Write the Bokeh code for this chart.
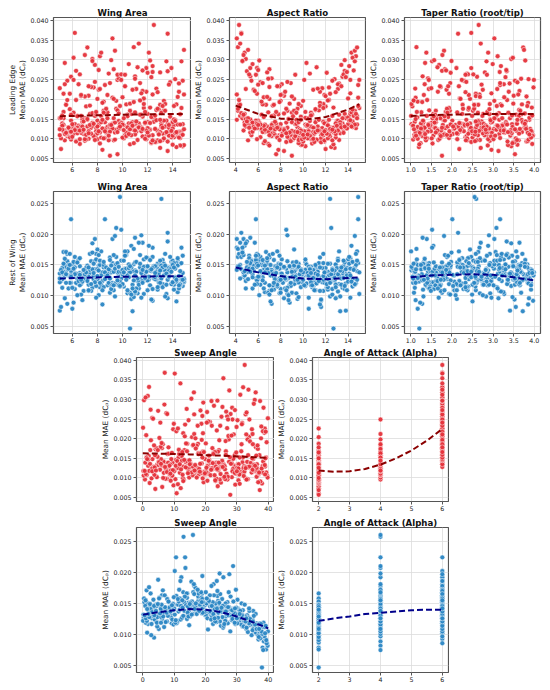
from bokeh.plotting import figure
from bokeh.layouts import column, row
from bokeh.models import (ColumnDataSource, Range1d, FixedTicker, Spacer,
                          NumeralTickFormatter)
from bokeh.embed import file_html
from bokeh.resources import INLINE

# ---------------- data: one row per sampled wing design ----------------
wing_area = [
    7.2, 12.8, 5.4, 9.9, 14.1, 6.6, 11.3, 8.4, 13.5, 5.9, 10.7, 14.8, 7.7, 12.0, 6.3, 9.4, 13.0, 5.2, 11.6, 8.9,
    10.3, 6.1, 14.4, 8.0, 12.3, 5.7, 9.6, 13.8, 7.0, 11.0, 14.9, 6.8, 10.1, 12.6, 5.1, 8.7, 13.2, 7.4, 11.8, 9.2,
    13.3, 8.6, 5.5, 11.9, 7.9, 14.6, 10.5, 6.2, 12.7, 9.0, 5.8, 13.9, 8.2, 11.4, 6.9, 14.3, 9.7, 12.2, 5.3, 10.8,
    6.4, 11.1, 14.7, 8.1, 12.9, 5.6, 9.8, 13.6, 7.3, 10.4, 14.0, 6.0, 9.3, 12.4, 7.6, 10.6, 13.4, 5.0, 8.8, 11.7,
    9.5, 5.3, 13.1, 7.5, 11.5, 14.5, 6.5, 10.2, 12.1, 8.3, 5.8, 13.7, 9.1, 7.1, 11.2, 14.2, 6.7, 10.0, 12.5, 8.5,
    12.4, 7.8, 14.8, 5.9, 10.9, 8.8, 13.2, 6.3, 9.9, 11.9, 5.4, 13.9, 8.0, 11.1, 6.8, 13.1, 9.4, 7.0, 12.0, 9.8,
    5.6, 10.7, 14.0, 7.2, 12.3, 9.0, 13.6, 6.0, 11.5, 8.6, 14.9, 7.6, 10.3, 12.8, 5.2, 9.5, 13.5, 6.6, 11.0, 8.3,
    13.0, 8.4, 5.7, 11.8, 14.4, 7.4, 10.0, 12.6, 6.1, 9.2, 13.7, 7.9, 11.3, 5.1, 14.1, 8.7, 10.8, 6.4, 12.9, 9.6,
    10.9, 6.2, 13.6, 8.1, 12.2, 5.5, 9.7, 14.6, 7.3, 11.4, 6.9, 13.3, 8.9, 12.7, 5.0, 10.1, 14.2, 7.8, 11.7, 8.2,
    13.6, 7.6, 11.0, 5.8, 14.3, 9.3, 12.5, 6.5, 10.6, 8.0, 13.8, 5.4, 9.0, 11.9, 7.1, 14.8, 10.4, 6.3, 12.1, 8.6,
    9.2, 14.7, 6.6, 11.6, 8.5, 13.0, 5.2, 10.2, 12.8, 7.0, 14.0, 9.9, 6.1, 11.2, 13.4, 7.7, 10.5, 5.9, 12.4, 9.4,
    12.5, 8.3, 5.6, 13.9, 10.0, 7.5, 11.8, 14.9, 6.8, 9.6, 13.2, 5.3, 10.8, 8.4, 12.0, 6.7, 14.5, 9.1, 11.5, 7.2,
    5.6, 13.4, 8.3, 11.2, 6.9, 14.0, 9.1, 12.3, 5.9, 10.4, 7.6, 14.6, 8.9, 12.8, 6.2, 10.7, 13.6, 7.9, 11.6, 5.3,
    9.8, 14.3, 6.6, 12.0, 8.5, 10.9, 13.1, 5.0, 9.4, 7.2,
    11.9, 6.0, 13.7, 8.2, 10.3, 5.5, 14.1, 7.3, 12.6, 9.0, 5.8, 11.4, 14.7, 8.0, 10.1, 6.4, 13.3, 7.7, 12.2, 9.7,
    5.2, 11.0, 14.4, 6.8, 10.6, 13.0, 7.9, 9.3, 12.9, 5.7,
    8.7, 13.8, 6.3, 11.3, 5.1, 14.5, 9.9, 7.4, 12.7, 10.5, 6.1, 13.1, 8.8, 11.0, 5.4, 14.2, 9.5, 7.0, 12.2, 10.2,
    5.9, 13.5, 8.1, 11.7, 6.7, 14.9, 9.6, 7.8, 12.4, 10.4,
    12.1, 6.5, 9.2, 14.2, 7.8, 11.5, 5.4, 13.3, 8.6, 10.0, 6.0, 12.6, 9.6, 14.8, 7.0, 11.0, 5.7, 13.0, 8.0, 10.7,
    6.8, 14.5, 9.0, 12.4, 5.2, 10.3, 13.7, 7.5, 11.8, 8.4,
    6.2, 13.5, 9.4, 11.3, 5.5, 14.0, 8.1, 10.8, 7.1, 12.7, 5.0, 10.5, 13.9, 7.7, 9.8, 12.0, 6.6, 14.6, 8.9, 11.6,
    5.9, 13.2, 10.1, 7.3, 12.9, 9.1, 6.9, 14.3, 8.6, 11.1,
    10.6, 5.3, 13.7, 7.9, 12.3, 9.3, 14.1, 6.4, 11.9, 8.2, 10.9, 5.8, 13.0, 7.6, 12.8, 9.7, 6.1, 14.4, 8.8, 11.4,
    5.5, 13.4, 7.3, 10.2, 12.6, 6.7, 14.7, 9.0, 11.6, 8.5,
]
aspect_ratio = [
    4.1, 4.7, 5.1, 5.8, 6.2, 6.9, 7.3, 7.8, 8.6, 9.1, 9.5, 10.2, 10.6, 11.1, 11.9, 12.4, 12.8, 13.5, 14.1, 14.7,
    4.3, 4.9, 5.4, 6.0, 6.5, 7.1, 7.6, 8.2, 8.7, 9.3, 9.8, 10.4, 10.9, 11.4, 12.0, 12.6, 13.2, 13.7, 14.3, 14.9,
    4.2, 4.8, 5.3, 5.9, 6.4, 7.0, 7.5, 8.0, 8.5, 9.0, 9.7, 10.3, 10.8, 11.3, 11.8, 12.5, 13.0, 13.6, 14.2, 14.8,
    4.4, 4.9, 5.5, 6.1, 6.6, 7.2, 7.7, 8.3, 8.8, 9.4, 9.9, 10.5, 11.0, 11.6, 12.1, 12.7, 13.3, 13.8, 14.4, 15.0,
    4.2, 4.6, 5.2, 5.7, 6.3, 6.8, 7.4, 7.9, 8.4, 9.0, 9.6, 10.1, 10.7, 11.2, 11.7, 12.3, 12.9, 13.5, 14.0, 14.6,
    4.1, 4.7, 5.2, 5.8, 6.3, 6.9, 7.4, 8.0, 8.5, 9.1, 9.6, 10.2, 10.7, 11.3, 11.8, 12.4, 12.9, 13.5, 14.2, 14.9,
    4.3, 4.8, 5.4, 5.9, 6.5, 7.0, 7.6, 8.1, 8.6, 9.2, 9.7, 10.3, 10.8, 11.4, 11.9, 12.5, 13.1, 13.6, 14.3, 14.8,
    4.4, 5.0, 5.5, 6.1, 6.6, 7.2, 7.7, 8.3, 8.8, 9.4, 9.9, 10.5, 11.0, 11.6, 12.2, 12.7, 13.3, 13.8, 14.4, 15.0,
    4.2, 4.5, 5.0, 5.6, 6.1, 6.7, 7.2, 7.8, 8.3, 8.9, 9.4, 10.0, 10.6, 11.1, 11.7, 12.2, 12.8, 13.4, 14.0, 14.7,
    4.5, 4.9, 5.3, 5.9, 6.4, 7.0, 7.5, 8.1, 8.6, 9.2, 9.8, 10.3, 10.9, 11.5, 12.0, 12.6, 13.2, 13.7, 14.3, 14.9,
    4.1, 4.6, 5.2, 5.7, 6.3, 6.8, 7.4, 7.9, 8.5, 9.0, 9.6, 10.1, 10.7, 11.2, 11.8, 12.3, 12.9, 13.5, 14.1, 14.6,
    4.3, 4.8, 5.4, 5.9, 6.5, 7.0, 7.6, 8.1, 8.7, 9.3, 9.8, 10.4, 10.9, 11.5, 12.1, 12.6, 13.2, 13.7, 14.2, 14.8,
    9.9, 5.6, 12.9, 7.9, 14.4, 10.7, 6.3, 11.6, 8.4, 13.9, 4.5, 9.2, 11.9, 7.4, 13.1, 5.0, 10.0, 8.9, 12.4, 6.7,
    14.0, 7.1, 10.8, 5.9, 12.2, 9.6, 13.4, 8.1, 11.2, 4.9,
    9.8, 6.1, 12.7, 8.2, 14.5, 10.5, 5.3, 11.5, 7.6, 13.3, 9.1, 4.7, 11.8, 6.8, 12.0, 8.7, 14.1, 10.3, 5.8, 7.3,
    13.0, 9.4, 6.6, 12.5, 8.0, 10.9, 14.7, 5.1, 11.0, 7.8,
    9.5, 6.2, 12.3, 4.4, 10.2, 8.4, 13.6, 7.3, 11.3, 5.5, 14.4, 9.0, 11.9, 6.9, 13.1, 10.6, 8.0, 4.7, 12.7, 7.7,
    10.8, 14.6, 6.0, 9.6, 12.0, 5.1, 11.4, 8.6, 13.9, 7.2,
    8.1, 11.4, 5.7, 13.6, 9.6, 6.9, 12.9, 10.4, 7.5, 14.6, 8.6, 11.0, 6.4, 12.3, 9.9, 13.1, 5.2, 8.9, 11.8, 7.0,
    14.3, 10.1, 8.4, 12.6, 6.6, 9.3, 4.8, 12.1, 10.9, 13.9,
    8.3, 11.1, 5.5, 13.4, 9.7, 7.1, 12.8, 6.5, 10.0, 14.2, 7.9, 11.7, 9.0, 5.9, 13.7, 8.8, 11.3, 6.2, 10.6, 12.4,
    9.3, 7.7, 14.8, 8.5, 10.4, 6.0, 12.6, 9.5, 11.9, 5.0,
    8.8, 12.4, 6.0, 10.2, 13.8, 7.0, 11.5, 9.1, 5.3, 13.1, 7.9, 11.1, 9.8, 4.6, 12.9, 8.3, 14.2, 6.8, 10.5, 12.2,
    7.4, 9.2, 13.4, 5.8, 10.7, 8.0, 11.8, 6.4, 14.5, 9.4,
]
taper_ratio = [
    2.35, 1.15, 3.62, 2.81, 1.73, 3.95, 1.48, 2.96, 3.27, 1.06, 2.12, 3.44, 1.89, 2.58, 3.81, 1.31, 2.70, 3.09, 1.62, 2.24,
    3.18, 1.57, 2.63, 3.71, 1.24, 2.05, 3.53, 1.81, 2.92, 1.02, 3.36, 2.47, 1.40, 3.88, 2.18, 3.02, 1.67, 2.76, 3.57, 1.12,
    1.95, 3.31, 2.52, 1.36, 3.76, 2.87, 1.09, 2.28, 3.49, 1.76, 2.99, 3.92, 1.53, 2.41, 3.15, 1.20, 2.66, 3.65, 1.85, 3.23,
    2.74, 1.44, 3.38, 2.09, 3.84, 1.28, 2.57, 3.13, 1.70, 2.93, 3.59, 1.17, 2.38, 3.97, 1.59, 1.21, 2.83, 3.41, 2.15, 1.93,
    1.88, 3.06, 2.44, 1.33, 3.67, 2.19, 1.05, 2.84, 3.52, 1.61, 2.33, 3.89, 1.47, 2.62, 3.21, 1.79, 2.97, 3.74, 1.16, 2.51,
    2.67, 1.39, 3.46, 2.01, 3.83, 1.26, 2.79, 3.12, 1.52, 2.36, 3.60, 1.98, 2.88, 3.94, 1.10, 2.59, 3.29, 1.72, 2.25, 2.55,
    3.34, 1.55, 2.72, 3.79, 1.91, 2.43, 3.58, 1.19, 2.90, 3.17, 1.64, 2.31, 3.86, 1.37, 2.69, 3.08, 1.83, 3.47, 2.13, 1.01,
    2.26, 3.69, 1.46, 2.95, 3.25, 1.78, 2.50, 3.90, 1.23, 2.77, 3.42, 1.68, 2.06, 3.55, 1.30, 2.86, 3.72, 1.58, 2.40, 3.99,
    1.14, 2.47, 3.33, 1.87, 3.78, 2.64, 1.42, 2.91, 3.50, 1.96, 3.15, 1.08, 2.37, 3.63, 1.50, 2.82, 3.86, 1.69, 2.19, 3.11,
    2.15, 3.44, 1.29, 2.58, 3.70, 1.83, 2.98, 3.26, 1.61, 2.44, 3.91, 1.35, 2.71, 3.38, 1.04, 2.29, 3.56, 1.76, 2.88, 3.17,
    3.03, 1.52, 2.39, 3.64, 1.17, 2.80, 3.46, 1.91, 2.54, 3.81, 1.31, 2.24, 3.37, 1.65, 2.92, 3.98, 1.25, 2.61, 3.19, 1.81,
    2.65, 1.38, 3.53, 2.11, 3.27, 1.73, 2.86, 3.61, 1.12, 2.33, 3.09, 1.48, 2.75, 3.85, 1.97, 2.49, 3.40, 1.57, 2.96, 3.73,
    2.02, 3.25, 1.36, 2.68, 3.79, 1.55, 2.44, 3.52, 1.18, 2.87, 3.14, 1.93, 2.60, 3.92, 1.27, 2.21, 3.35, 1.71, 2.95, 3.66,
    1.43, 2.50, 3.01, 1.84, 2.37, 3.47, 1.06, 2.79, 3.86, 1.62,
    1.74, 3.30, 2.46, 1.12, 3.63, 2.14, 2.93, 1.49, 3.80, 2.31, 1.21, 3.09, 2.63, 1.90, 3.43, 2.75, 1.30, 3.96, 2.18, 1.60,
    3.22, 2.56, 1.97, 3.57, 1.08, 2.83, 3.71, 1.53, 2.40, 3.14,
    2.27, 3.59, 1.40, 2.70, 3.88, 1.66, 2.52, 3.21, 1.11, 2.99, 3.48, 1.89, 2.41, 3.68, 1.34, 2.63, 3.03, 1.77, 3.94, 2.17,
    1.59, 2.84, 3.32, 1.02, 2.58, 3.75, 1.45, 2.35, 3.16, 1.82,
    3.05, 1.65, 2.90, 1.22, 3.58, 2.29, 3.87, 1.51, 2.71, 3.34, 1.10, 2.47, 3.70, 1.80, 2.13, 3.19, 1.34, 2.56, 3.45, 1.96,
    2.84, 3.92, 1.41, 2.34, 3.27, 1.73, 2.61, 3.63, 1.17, 2.06,
    2.20, 3.41, 1.58, 2.77, 3.84, 1.25, 2.49, 3.11, 1.88, 2.94, 3.53, 1.35, 2.66, 3.77, 2.03, 1.61, 3.26, 2.38, 1.13, 3.65,
    2.57, 1.76, 3.03, 2.12, 3.88, 1.43, 2.82, 3.36, 1.94, 2.58,
    3.49, 1.93, 2.72, 1.15, 3.30, 2.21, 3.83, 1.56, 2.47, 3.10, 1.28, 2.91, 3.59, 1.99, 2.33, 3.77, 1.44, 2.68, 3.22, 1.07,
    2.54, 3.66, 1.71, 2.85, 3.95, 1.32, 2.41, 3.17, 1.86, 2.63,
]
sweep_angle = [
    3.1, 8.4, 0.7, 5.5, 9.2, 2.2, 6.8, 4.0, 1.4, 7.7, 3.6, 9.8, 0.3, 5.1, 8.9, 2.7, 6.2, 4.6, 1.9, 7.3,
    14.2, 11.7, 17.9, 12.6, 19.4, 15.3, 10.8, 16.6, 13.1, 18.5, 11.2, 17.0, 14.8, 19.9, 12.1, 16.2, 10.4, 18.1, 13.9, 15.7,
    24.3, 21.1, 28.7, 26.0, 22.8, 29.5, 20.4, 25.6, 23.2, 27.9, 21.7, 26.8, 24.9, 29.1, 20.8, 23.9, 28.2, 22.4, 26.5, 25.2,
    33.6, 38.9, 31.2, 36.4, 30.5, 39.6, 34.1, 37.3, 32.7, 35.8, 30.9, 38.2, 33.0, 36.9, 31.8, 38.0, 34.7, 39.3, 32.3, 36.1,
    6.1, 1.2, 9.5, 3.4, 7.9, 0.5, 5.0, 8.6, 2.9, 6.6, 4.3, 9.0, 1.7, 7.2, 3.8, 5.8, 0.9, 8.1, 4.7, 2.4,
    16.4, 12.3, 18.8, 10.6, 14.5, 19.1, 11.8, 17.3, 13.6, 15.9, 10.2, 18.3, 12.8, 16.9, 14.1, 13.0, 19.6, 11.4, 17.7, 16.0,
    27.4, 22.6, 25.3, 20.7, 29.2, 23.8, 21.5, 26.7, 24.5, 28.4, 22.0, 25.9, 20.2, 27.0, 23.4, 28.8, 21.2, 26.1, 24.0, 29.7,
    31.5, 35.2, 39.0, 33.3, 37.6, 30.3, 36.3, 32.1, 38.6, 34.4, 30.7, 37.0, 33.8, 39.8, 35.5, 31.0, 38.4, 32.9, 36.7, 34.0,
    2.0, 7.0, 4.9, 9.7, 0.4, 6.4, 3.0, 8.3, 1.1, 5.6, 9.1, 2.6, 7.5, 4.1, 0.1, 8.8, 3.3, 6.9, 5.3, 1.6,
    10.2, 15.5, 19.0, 12.9, 17.6, 14.0, 11.0, 18.7, 13.3, 16.8, 12.4, 19.3, 15.1, 10.7, 17.2, 14.6, 11.6, 18.4, 16.3, 13.5,
    25.7, 21.9, 28.0, 23.6, 26.4, 20.5, 29.4, 24.7, 22.2, 27.3, 21.3, 28.6, 23.0, 25.4, 20.1, 29.9, 24.2, 26.9, 22.7, 27.6,
    32.5, 36.0, 30.2, 38.5, 33.9, 37.8, 31.4, 35.0, 39.1, 32.8, 36.6, 30.6, 34.8, 39.5, 33.1, 37.2, 31.7, 35.7, 38.8, 32.0,
    18.9, 6.3, 27.1, 33.5, 12.5, 1.3, 22.1, 37.5, 8.0, 16.0, 29.8, 4.5, 24.6, 35.3, 14.3, 0.8, 20.6, 31.4, 9.4, 17.4,
    28.4, 39.4, 2.8, 13.7, 25.8, 36.8, 5.9, 19.7, 23.5, 34.9,
    7.4, 15.2, 25.0, 32.4, 3.9, 19.8, 28.9, 36.5, 11.3, 22.9, 0.2, 17.8, 30.8, 8.5, 26.2, 38.1, 13.2, 21.6, 5.2, 34.6,
    16.7, 29.6, 2.3, 24.1, 37.9, 10.0, 18.6, 31.9, 6.7, 23.3,
    4.4, 21.4, 33.4, 12.0, 27.8, 38.3, 7.8, 16.1, 26.9, 35.4, 0.9, 19.5, 29.0, 39.9, 9.9, 14.9, 24.4, 31.1, 5.7, 17.5,
    22.5, 37.4, 2.5, 13.8, 28.3, 33.7, 11.5, 20.9, 26.6, 36.2,
    3.7, 21.8, 30.1, 14.6, 26.3, 9.0, 37.0, 17.2, 24.0, 5.8, 32.2, 12.9, 28.6, 1.0, 19.1, 35.0, 7.1, 23.1, 15.6, 39.0,
    10.5, 26.0, 2.1, 33.1, 18.0, 22.9, 11.8, 29.3, 6.5, 36.3,
    12.2, 3.0, 27.5, 33.9, 7.7, 20.3, 16.5, 38.9, 24.8, 1.8, 30.5, 14.4, 9.6, 22.3, 35.8, 18.2, 5.5, 28.1, 12.7, 32.8,
    0.6, 25.5, 19.0, 37.1, 8.8, 15.0, 23.7, 30.0, 4.2, 21.0,
    6.0, 19.2, 31.6, 14.1, 25.1, 37.7, 3.6, 21.1, 28.5, 11.2, 34.2, 16.9, 1.4, 23.8, 39.2, 9.3, 27.2, 13.4, 30.9, 18.8,
    35.1, 4.8, 22.0, 16.4, 26.5, 33.0, 8.2, 20.4, 29.4, 12.6,
]
alpha = ([2] * 80 + [4] * 80 + [6] * 80 + [2] * 30 + [4] * 30 + [6] * 30
         + [2] * 30 + [4] * 30 + [6] * 30)
le_mae = [
    .0148, .0121, .0096, .0133, .0104, .0087, .0139, .0072, .0115, .0098, .0129, .0081, .0106, .0142, .0093, .0118, .0077, .0134, .0156, .0127,
    .0187, .0131, .0109, .0146, .0089, .0124, .0061, .0113, .0095, .0137, .0084, .0119, .0101, .0148, .0074, .0125, .0097, .0163, .0139, .0204,
    .0171, .0142, .0116, .0099, .0128, .0083, .0110, .0137, .0092, .0057, .0121, .0104, .0088, .0131, .0112, .0079, .0145, .0123, .0168, .0136,
    .0158, .0226, .0118, .0135, .0094, .0107, .0126, .0069, .0100, .0117, .0085, .0130, .0096, .0109, .0140, .0086, .0114, .0152, .0130, .0178,
    .0176, .0152, .0139, .0128, .0161, .0118, .0133, .0109, .0124, .0142, .0104, .0119, .0131, .0098, .0127, .0148, .0115, .0139, .0154, .0171,
    .0212, .0158, .0137, .0146, .0122, .0167, .0113, .0126, .0141, .0107, .0121, .0136, .0099, .0118, .0143, .0129, .0116, .0152, .0163, .0183,
    .0198, .0163, .0144, .0131, .0155, .0120, .0138, .0111, .0128, .0102, .0124, .0133, .0115, .0096, .0139, .0123, .0146, .0130, .0167, .0158,
    .0186, .0148, .0129, .0141, .0117, .0135, .0103, .0125, .0112, .0138, .0108, .0119, .0127, .0101, .0134, .0116, .0142, .0128, .0174, .0249,
    .0332, .0368, .0271, .0224, .0298, .0186, .0253, .0162, .0209, .0241, .0148, .0196, .0265, .0173, .0228, .0134, .0251, .0287, .0202, .0309,
    .0366, .0302, .0258, .0214, .0187, .0276, .0143, .0238, .0171, .0201, .0156, .0292, .0128, .0219, .0182, .0247, .0161, .0272, .0318, .0236,
    .0354, .0296, .0263, .0221, .0194, .0268, .0159, .0233, .0176, .0207, .0142, .0249, .0166, .0281, .0188, .0230, .0139, .0257, .0284, .0323,
    .0388, .0318, .0247, .0279, .0205, .0231, .0168, .0212, .0150, .0262, .0183, .0135, .0224, .0191, .0267, .0158, .0240, .0299, .0215, .0331,
    .0112, .0131, .0103, .0097, .0144, .0108, .0125, .0091, .0117, .0129, .0165, .0102, .0096, .0120, .0124, .0139, .0093, .0110, .0106, .0119,
    .0137, .0114, .0099, .0127, .0101, .0089, .0133, .0109, .0098, .0150,
    .0121, .0137, .0128, .0116, .0158, .0112, .0149, .0119, .0125, .0135, .0118, .0161, .0109, .0131, .0122, .0114, .0146, .0107, .0140, .0127,
    .0133, .0111, .0136, .0120, .0124, .0117, .0163, .0152, .0113, .0129,
    .0176, .0243, .0198, .0341, .0153, .0219, .0263, .0184, .0227, .0289, .0305, .0166, .0211, .0252, .0238, .0145, .0196, .0312, .0179, .0233,
    .0161, .0296, .0274, .0188, .0208, .0325, .0172, .0244, .0269, .0157,
    .0108, .0121, .0126, .0115, .0097, .0119, .0112, .0101, .0124, .0136, .0105, .0092, .0117, .0110, .0099, .0121, .0128, .0094, .0114, .0109,
    .0131, .0103, .0118, .0096, .0123, .0107, .0135, .0113, .0100, .0126,
    .0122, .0117, .0141, .0129, .0115, .0126, .0119, .0133, .0110, .0147, .0124, .0112, .0120, .0138, .0131, .0116, .0121, .0136, .0108, .0125,
    .0118, .0128, .0152, .0114, .0111, .0135, .0123, .0117, .0119, .0144,
    .0189, .0214, .0237, .0168, .0256, .0201, .0183, .0157, .0279, .0226, .0193, .0175, .0148, .0297, .0218, .0164, .0249, .0206, .0152, .0197,
    .0186, .0171, .0233, .0262, .0159, .0211, .0178, .0241, .0273, .0166,
]
rest_mae = [
    .0142, .0131, .0150, .0128, .0118, .0137, .0112, .0124, .0103, .0121, .0095, .0116, .0127, .0109, .0132, .0099, .0125, .0113, .0136, .0120,
    .0166, .0139, .0158, .0127, .0143, .0133, .0118, .0146, .0129, .0141, .0122, .0136, .0115, .0131, .0124, .0144, .0119, .0137, .0128, .0153,
    .0148, .0134, .0141, .0125, .0130, .0117, .0138, .0111, .0126, .0105, .0132, .0120, .0114, .0127, .0108, .0123, .0135, .0117, .0129, .0140,
    .0128, .0112, .0135, .0101, .0121, .0087, .0115, .0096, .0118, .0104, .0122, .0079, .0109, .0092, .0113, .0047, .0099, .0076, .0117, .0103,
    .0163, .0171, .0149, .0156, .0140, .0152, .0131, .0144, .0126, .0138, .0121, .0133, .0117, .0142, .0124, .0130, .0119, .0135, .0128, .0146,
    .0178, .0192, .0165, .0224, .0151, .0143, .0158, .0136, .0207, .0147, .0132, .0155, .0141, .0139, .0125, .0257, .0150, .0137, .0161, .0260,
    .0168, .0181, .0157, .0149, .0140, .0162, .0145, .0133, .0198, .0139, .0128, .0143, .0131, .0152, .0127, .0210, .0136, .0148, .0154, .0172,
    .0150, .0138, .0112, .0131, .0106, .0142, .0118, .0127, .0089, .0121, .0134, .0097, .0123, .0082, .0110, .0129, .0075, .0120, .0115, .0138,
    .0176, .0163, .0188, .0149, .0158, .0171, .0139, .0152, .0131, .0146, .0127, .0141, .0134, .0148, .0122, .0139, .0130, .0143, .0159, .0150,
    .0202, .0185, .0194, .0168, .0153, .0166, .0148, .0159, .0138, .0175, .0143, .0151, .0129, .0162, .0145, .0137, .0172, .0154, .0181, .0224,
    .0192, .0178, .0161, .0186, .0150, .0157, .0136, .0165, .0144, .0131, .0152, .0139, .0147, .0128, .0168, .0133, .0151, .0140, .0163, .0197,
    .0148, .0133, .0156, .0119, .0142, .0108, .0137, .0124, .0093, .0129, .0114, .0140, .0118, .0086, .0125, .0102, .0132, .0111, .0097, .0126,
    .0134, .0141, .0118, .0104, .0127, .0122, .0138, .0094, .0130, .0133, .0143, .0119, .0121, .0110, .0135, .0146, .0126, .0116, .0124, .0139,
    .0123, .0091, .0117, .0147, .0114, .0098, .0128, .0136, .0120, .0124,
    .0139, .0151, .0136, .0121, .0144, .0147, .0153, .0108, .0148, .0141, .0132, .0166, .0126, .0143, .0138, .0101, .0152, .0137, .0158, .0117,
    .0145, .0133, .0149, .0135, .0105, .0142, .0168, .0139, .0134, .0150,
    .0146, .0163, .0121, .0186, .0142, .0112, .0157, .0168, .0139, .0130, .0155, .0149, .0136, .0105, .0160, .0144, .0151, .0138, .0141, .0172,
    .0133, .0118, .0166, .0147, .0129, .0127, .0153, .0156, .0145, .0109,
    .0131, .0124, .0118, .0129, .0122, .0137, .0096, .0133, .0127, .0119, .0113, .0130, .0125, .0126, .0135, .0107, .0144, .0121, .0132, .0102,
    .0123, .0117, .0128, .0111, .0138, .0126, .0140, .0119, .0129, .0109,
    .0146, .0136, .0144, .0118, .0135, .0150, .0141, .0112, .0138, .0133, .0128, .0145, .0139, .0152, .0116, .0148, .0134, .0140, .0143, .0121,
    .0131, .0146, .0157, .0109, .0137, .0149, .0142, .0126, .0138, .0155,
    .0148, .0152, .0131, .0159, .0143, .0117, .0146, .0154, .0139, .0157, .0125, .0150, .0141, .0170, .0114, .0147, .0144, .0161, .0133, .0152,
    .0121, .0149, .0146, .0165, .0137, .0126, .0153, .0158, .0142, .0155,
]

# dashed trend curves
area_trend_x = [5, 10, 15]
le_area_trend = [0.0157, 0.0161, 0.0163]
rest_area_trend = [0.0128, 0.0131, 0.0132]
ar_trend_x = [4, 6, 8, 10, 12, 14, 15]
le_ar_trend = [0.0184, 0.0163, 0.0151, 0.0148, 0.0155, 0.0174, 0.0188]
rest_ar_trend = [0.0146, 0.0138, 0.0132, 0.0128, 0.0127, 0.0129, 0.0130]
taper_trend_x = [1.0, 1.5, 2.0, 2.5, 3.0, 3.5, 4.0]
le_taper_trend = [0.0158, 0.0160, 0.0161, 0.0162, 0.0163, 0.0163, 0.0163]
rest_taper_trend = [0.0130, 0.0133, 0.0134, 0.0135, 0.0134, 0.0130, 0.0125]
sweep_trend_x = [0, 5, 10, 15, 20, 25, 30, 35, 40]
le_sweep_trend = [0.0163, 0.0162, 0.0161, 0.0160, 0.0158, 0.0157, 0.0155, 0.0153, 0.0151]
rest_sweep_trend = [0.0132, 0.0136, 0.0139, 0.0141, 0.0140, 0.0136, 0.0129, 0.0120, 0.0110]
alpha_trend_x = [2, 2.5, 3, 3.5, 4, 4.5, 5, 5.5, 6]
le_alpha_trend = [0.0119, 0.0116, 0.0117, 0.0123, 0.0134, 0.0150, 0.0170, 0.0195, 0.0225]
rest_alpha_trend = [0.0122, 0.0126, 0.0129, 0.0133, 0.0135, 0.0137, 0.0139, 0.0140, 0.0140]

titles = ["Wing Area", "Aspect Ratio", "Taper Ratio (root/tip)", "Sweep Angle", "Angle of Attack (Alpha)"]
le_ticks = [0.005, 0.010, 0.015, 0.020, 0.025, 0.030, 0.035, 0.040]
rest_ticks = [0.005, 0.010, 0.015, 0.020, 0.025]

src = ColumnDataSource(dict(area=wing_area, ar=aspect_ratio, taper=taper_ratio,
                            sweep=sweep_angle, alpha=alpha, le=le_mae, rest=rest_mae))

FONT = "DejaVu Sans"
RED, BLUE = "#e5323a", "#2a86c4"
DRED, DBLUE = "#8b0000", "#00008b"
XCFG = {
    "area": ((4.5, 15.5), [6, 8, 10, 12, 14], "0"),
    "ar": ((3.45, 15.55), [4, 6, 8, 10, 12, 14], "0"),
    "taper": ((0.85, 4.15), [1.0, 1.5, 2.0, 2.5, 3.0, 3.5, 4.0], "0.0"),
    "sweep": ((-2, 42), [0, 10, 20, 30, 40], "0"),
    "alpha": ((1.8, 6.2), [2, 3, 4, 5, 6], "0"),
}


def panel(xname, yname, title, yr, yticks, color, tx, ty, tcolor, ylabel,
          fw, fh, bl, br, bt, bb):
    xr, xticks, xfmt = XCFG[xname]
    p = figure(width=bl + fw + br, height=bt + fh + bb,
               x_range=Range1d(*xr), y_range=Range1d(*yr),
               output_backend="svg", toolbar_location=None,
               min_border_left=bl, min_border_right=br,
               min_border_top=bt, min_border_bottom=bb, title=title)
    p.title.align = "center"
    p.title.text_font = FONT
    p.title.text_font_size = "8.6px"
    p.title.text_font_style = "bold"
    p.title.text_color = "#111111"
    p.title.standoff = 0
    p.title.offset = 0
    p.background_fill_color = "white"
    p.border_fill_color = "white"
    p.outline_line_color = "#555555"
    p.outline_line_width = 1.2
    for ax, ticks, fmt in ((p.xaxis, xticks, xfmt), (p.yaxis, yticks, "0.000")):
        ax.ticker = FixedTicker(ticks=ticks)
        ax.formatter = NumeralTickFormatter(format=fmt)
        ax.axis_line_color = None
        ax.major_tick_line_color = "#555555"
        ax.major_tick_out = 3
        ax.major_tick_in = 0
        ax.minor_tick_line_color = None
        ax.major_label_text_font = FONT
        ax.major_label_text_font_size = "6.3px"
        ax.major_label_text_color = "#222222"
        ax.major_label_standoff = 2
    p.xaxis.major_label_standoff = 1
    p.yaxis.axis_label = ylabel
    p.yaxis.axis_label_text_font = FONT
    p.yaxis.axis_label_text_font_size = "7.4px"
    p.yaxis.axis_label_text_font_style = "normal"
    p.yaxis.axis_label_text_color = "#222222"
    p.yaxis.axis_label_standoff = 0
    p.grid.grid_line_color = "#dcdcdc"
    p.grid.grid_line_width = 0.8
    p.scatter(x=xname, y=yname, source=src, size=4.9, fill_color=color,
              fill_alpha=0.95, line_color="white", line_width=0.5)
    p.line(tx, ty, line_color=tcolor, line_width=2.0, line_dash="6 3")
    return p


LE_R = (0.0040, 0.0407)
RW_R = (0.0039, 0.0269)
RW_R4 = (0.0039, 0.0272)
ML = "Mean MAE (dC\u209a)"

f1 = panel("area", "le", titles[0], LE_R, le_ticks, RED, area_trend_x, le_area_trend, DRED,
           "Leading Edge\n" + ML, 138, 145, 53, 0, 17, 15)
f2 = panel("ar", "le", titles[1], LE_R, le_ticks, RED, ar_trend_x, le_ar_trend, DRED,
           ML, 137, 145, 37, 1, 17, 15)
f3 = panel("taper", "le", titles[2], LE_R, le_ticks, RED, taper_trend_x, le_taper_trend, DRED,
           ML, 138, 145, 36, 2, 17, 15)
f4 = panel("area", "rest", titles[0], RW_R, rest_ticks, BLUE, area_trend_x, rest_area_trend, DBLUE,
           "Rest of Wing\n" + ML, 138, 143, 53, 0, 14, 11)
f5 = panel("ar", "rest", titles[1], RW_R, rest_ticks, BLUE, ar_trend_x, rest_ar_trend, DBLUE,
           ML, 137, 143, 37, 1, 14, 11)
f6 = panel("taper", "rest", titles[2], RW_R, rest_ticks, BLUE, taper_trend_x, rest_taper_trend, DBLUE,
           ML, 138, 143, 36, 2, 14, 11)
f7 = panel("sweep", "le", titles[3], LE_R, le_ticks, RED, sweep_trend_x, le_sweep_trend, DRED,
           ML, 138, 144, 40, 0, 12, 13)
f8 = panel("alpha", "le", titles[4], LE_R, le_ticks, RED, alpha_trend_x, le_alpha_trend, DRED,
           ML, 137, 144, 37, 1, 12, 13)
f9 = panel("sweep", "rest", titles[3], RW_R4, rest_ticks, BLUE, sweep_trend_x, rest_sweep_trend, DBLUE,
           ML, 138, 145, 40, 0, 13, 16)
f10 = panel("alpha", "rest", titles[4], RW_R4, rest_ticks, BLUE, alpha_trend_x, rest_alpha_trend, DBLUE,
            ML, 137, 145, 37, 1, 13, 16)

layout = column(
    row(f1, f2, f3),
    row(f4, f5, f6),
    row(Spacer(width=96, height=169), f7, f8),
    row(Spacer(width=96, height=174), f9, f10),
)

open("out.html", "w").write(file_html(layout, INLINE))
